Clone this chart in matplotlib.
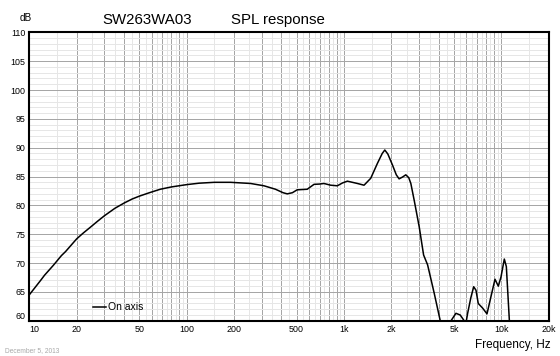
import matplotlib
matplotlib.use("Agg")
import matplotlib.pyplot as plt
from matplotlib.ticker import FixedLocator, FixedFormatter, NullFormatter

plt.rcParams['font.family'] = ['Liberation Sans', 'DejaVu Sans']

# ---- data ----
freq_hz = [10, 11.8, 12.5, 14.2, 16, 17, 20, 22, 24.4, 27, 30, 35, 40, 45, 50, 58, 68,
           80, 100, 120, 150, 190, 255, 310,
           367, 410, 436, 470, 504, 584, 645, 700, 746, 823, 907, 980, 1051, 1217,
           1341, 1479, 1632, 1750, 1817, 1900, 2033, 2150, 2240, 2350, 2471, 2580,
           2660, 2793, 3006, 3206, 3399, 3743, 4091, 4400, 4786, 5145, 5480, 5808,
           5950, 6107, 6400, 6672, 6900, 7134, 7605, 8106, 8593, 9114, 9567, 9950,
           10446, 10760, 11250, 11600]
spl_db = [64.5, 67.0, 67.9, 69.6, 71.3, 72.0, 74.2, 75.2, 76.2, 77.2, 78.2, 79.5, 80.4,
          81.1, 81.6, 82.2, 82.8, 83.2, 83.6, 83.85, 84.0, 84.0,
          83.8, 83.4, 82.8, 82.2, 82.0, 82.2, 82.7, 82.8, 83.65, 83.7, 83.8, 83.5,
          83.4, 83.9, 84.2, 83.8, 83.5, 84.7, 87.3, 89.0, 89.6, 88.9, 87.0, 85.3,
          84.6, 84.9, 85.3, 84.8, 83.8, 80.9, 76.3, 71.4, 69.7, 64.8, 60.0, 56.0,
          60.0, 61.3, 61.0, 60.0, 59.5, 61.3, 64.0, 65.9, 65.3, 63.0, 62.2, 61.2,
          64.2, 67.2, 66.0, 67.6, 70.7, 69.4, 60.0, 55.0]
series_name = "On axis"

x_label_values = [10, 20, 50, 100, 200, 500, 1000, 2000, 5000, 10000, 20000]
x_label_texts = ["10", "20", "50", "100", "200", "500", "1k", "2k", "5k", "10k", "20k"]
y_label_values = [60, 65, 70, 75, 80, 85, 90, 95, 100, 105, 110]

# grid positions
x_major = [m * d for d in (10, 100, 1000, 10000) for m in range(1, 10) if m * d <= 20000]
x_minor = [(m + 0.5) * d for d in (10, 100, 1000, 10000) for m in range(1, 10) if (m + 0.5) * d < 20000]

W, H = 560, 356
fig = plt.figure(figsize=(W / 100, H / 100), dpi=100)
L, R, T, B = 29.3, 548.7, 32.3, 320.8
ax = fig.add_axes([L / W, 1 - B / H, (R - L) / W, (B - T) / H])

ax.set_xscale('log')
ax.set_xlim(10, 20000)
ax.set_ylim(60, 110)

# ticks / grid
ax.xaxis.set_major_locator(FixedLocator(x_major))
ax.xaxis.set_minor_locator(FixedLocator(x_minor))
labels = [x_label_texts[x_label_values.index(v)] if v in x_label_values else "" for v in x_major]
ax.xaxis.set_major_formatter(FixedFormatter(labels))
ax.xaxis.set_minor_formatter(NullFormatter())
ax.yaxis.set_major_locator(FixedLocator(y_label_values))
ax.yaxis.set_minor_locator(FixedLocator(list(range(60, 111))))
ax.yaxis.set_major_formatter(FixedFormatter([str(v) for v in y_label_values]))

ax.grid(which='minor', color='#e6e6e6', linewidth=0.72)
ax.grid(which='major', color='#a6a6a6', linewidth=0.72)
ax.set_axisbelow(True)
ax.tick_params(which='both', length=0, labelsize=6.4, colors='black')
ax.tick_params(axis='x', pad=3.0)
ax.tick_params(axis='y', pad=2.6)

for lbl in ax.get_xticklabels():
    if lbl.get_text() == "10":
        lbl.set_horizontalalignment('left')
for lbl in ax.get_yticklabels():
    if lbl.get_text() == "60":
        lbl.set_verticalalignment('bottom')

for s in ax.spines.values():
    s.set_linewidth(1.5)
    s.set_color('black')
    s.set_zorder(5)

ax.plot(freq_hz, spl_db, color='black', linewidth=1.1, label=series_name,
        solid_joinstyle='round')

ax.legend(loc='center left', bbox_to_anchor=((92.7 - L) / (R - L), (B - 307.3) / (B - T)),
          frameon=False, borderpad=0, borderaxespad=0, handlelength=1.25,
          handletextpad=0.25, prop={'size': 7.5})

fig.text(19.3 / W, 1 - 20.7 / H, "dB", fontsize=7.2, va='baseline', ha='left')
fig.text(102.7 / W, 1 - 24 / H, "SW263WA03", fontsize=10.8, va='baseline', ha='left')
fig.text(231 / W, 1 - 24 / H, "SPL response", fontsize=10.8, va='baseline', ha='left')
fig.text(551 / W, 1 - 347.7 / H, "Frequency, Hz", fontsize=8.5, va='baseline', ha='right')
fig.text(5 / W, 1 - 352 / H, "December 5, 2013", fontsize=4.8, va='baseline', ha='left',
         color='#a8a8a8')

fig.savefig("out.png", dpi=100)
